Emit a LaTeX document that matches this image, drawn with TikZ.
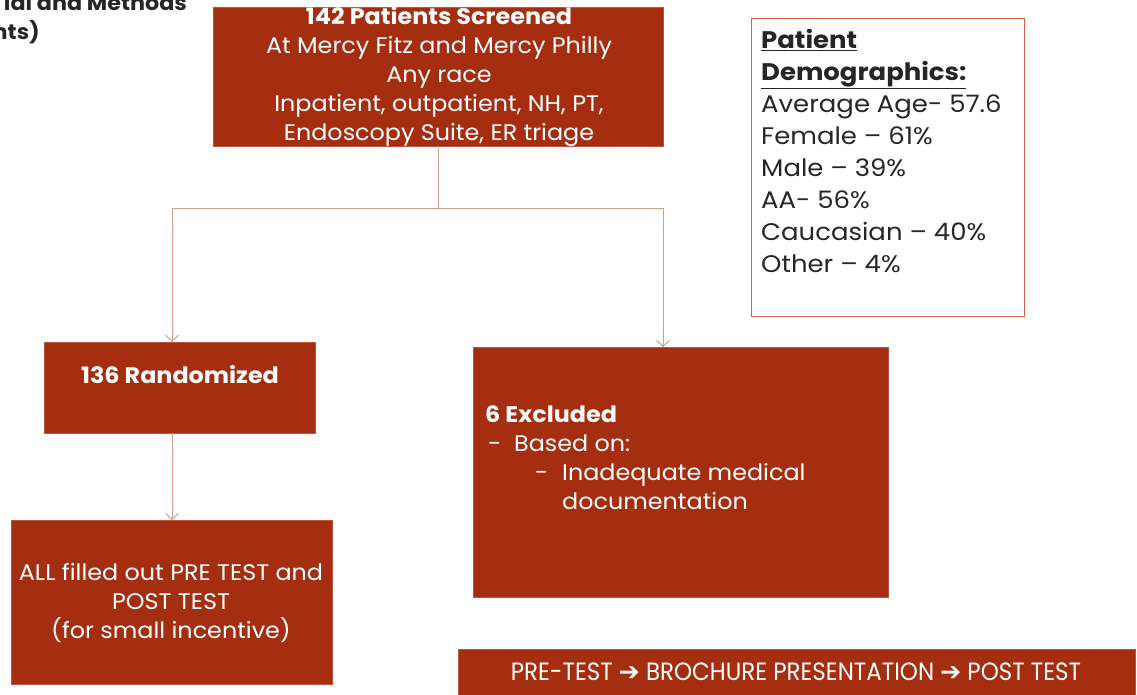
\documentclass[tikz,border=0pt]{standalone}
\usepackage{fontspec}
\setmainfont{Poppins}[FakeStretch=1.06]
\newfontfamily\demofont[FakeStretch=1.08]{Poppins}
\newfontfamily\condfont[FakeStretch=0.92]{Poppins}
\newfontfamily\arrowfont{DejaVu Sans}
\usetikzlibrary{arrows.meta}
\definecolor{boxred}{HTML}{A52E10}
\definecolor{boxedge}{HTML}{B9543C}
\definecolor{connc}{HTML}{D59A8E}
\definecolor{demoedge}{HTML}{CF5E48}
\definecolor{darktext}{HTML}{262626}
\begin{document}
\begin{tikzpicture}[x=1pt,y=-1pt,
  redbox/.style={draw=boxedge,line width=0.8pt,fill=boxred,anchor=north west,inner sep=0pt,outer sep=0pt},
  wtext/.style={text=white,inner sep=0pt,font=\fontsize{22.5}{29}\selectfont},
  conn/.style={draw=connc,line width=1pt},
  arr/.style={conn,-{Straight Barb[length=6pt,width=13pt,line width=1pt]}}]
\useasboundingbox (0,0) rectangle (1137,694);
% cut-off heading
\node[anchor=base east,inner sep=0pt,font=\bfseries\fontsize{21}{29}\selectfont,text=darktext] (hd1) at (187,10) {ial and Methods};
\node[anchor=base east,inner sep=0pt,font=\bfseries\fontsize{21}{29}\selectfont,text=darktext] (hd2) at (40,39) {nts)};
% top box
\node[redbox,minimum width=450pt,minimum height=139pt] (top) at (213,7) {};
\node[wtext,align=center] (toptxt) at (439,77) {\textbf{142 Patients Screened}\\At Mercy Fitz and Mercy Philly\\Any race\\Inpatient, outpatient, NH, PT,\\Endoscopy Suite, ER triage};
% demographics
\node[draw=demoedge,line width=1.2pt,anchor=north west,minimum width=273pt,minimum height=298pt,inner sep=0pt] (demo) at (751,18) {};
\node[anchor=north west,inner sep=0pt,align=left,text=darktext,font=\demofont\fontsize{24}{32}\selectfont] (demotxt) at (761,29) {\textbf{\underline{Patient}}\\\textbf{\underline{Demographics:}}\\Average Age- 57.6\\Female – 61\%\\Male – 39\%\\AA- 56\%\\Caucasian – 40\%\\Other – 4\%};
% randomized
\node[redbox,minimum width=271pt,minimum height=91pt] (rand) at (44,342) {};
\node[wtext,font=\bfseries\fontsize{22.5}{29}\selectfont] (randtxt) at (180,375) {136 Randomized};
% all filled
\node[redbox,minimum width=321pt,minimum height=164pt] (all) at (11,520) {};
\node[wtext,align=center] (alltxt) at (171,603) {ALL filled out PRE TEST and\\POST TEST\\(for small incentive)};
% excluded
\node[redbox,minimum width=415pt,minimum height=250pt] (excl) at (473,347) {};
\node[wtext,anchor=base west,font=\bfseries\fontsize{22.5}{29}\selectfont] (ex1) at (485,422) {6 Excluded};
\node[wtext,anchor=base west] (ex2d) at (488,451) {-};
\node[wtext,anchor=base west] (ex2) at (514,451) {Based on:};
\node[wtext,anchor=base west] (ex3d) at (535,480) {-};
\node[wtext,anchor=base west] (ex3) at (562,480) {Inadequate medical};
\node[wtext,anchor=base west] (ex4) at (562,509) {documentation};
% bottom bar
\node[redbox,minimum width=677pt,minimum height=50pt] (bar) at (458,649) {};
\node[wtext,font=\condfont\fontsize{25}{29}\selectfont] (bartxt) at (796,672) {PRE-TEST {\arrowfont\char"2794} BROCHURE PRESENTATION {\arrowfont\char"2794} POST TEST};
% connectors
\coordinate (jl) at (172,208);
\coordinate (jr) at (663,208);
\draw[conn] (top.south) -- (top.south |- jl);
\draw[conn] (jl) -- (jr);
\draw[arr] (jl) -- (jl |- rand.north);
\draw[arr] (jr) -- (jr |- excl.north);
\draw[arr] (rand.south -| jl) -- (jl |- all.north);
\end{tikzpicture}
\end{document}
